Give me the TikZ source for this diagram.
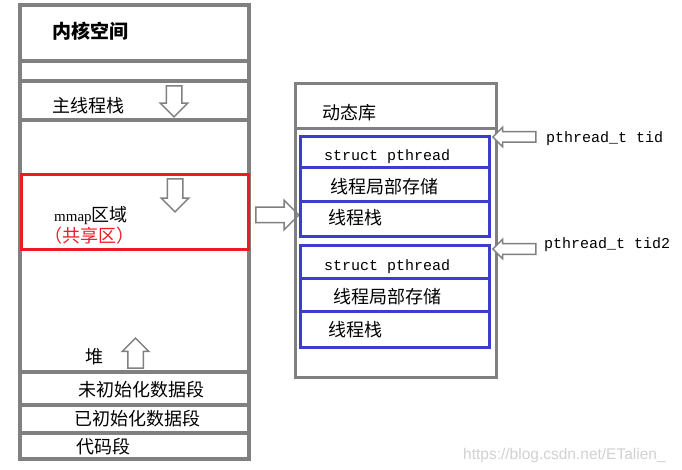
\documentclass[tikz,border=0pt]{standalone}
\usepackage{fontspec}
\setmainfont{Liberation Serif}
\setmonofont{Liberation Mono}
\setsansfont{Liberation Sans}
\newfontfamily\cjk{Noto Sans CJK SC}
\usetikzlibrary{shapes.arrows}
\definecolor{boxgray}{RGB}{128,128,128}
\definecolor{tlsblue}{RGB}{60,60,205}
\definecolor{sharered}{RGB}{237,28,36}
\newcommand\zh[1]{{\cjk\fontsize{18}{20}\selectfont #1}}
\newcommand\code[1]{{\ttfamily\fontsize{15}{17}\selectfont #1}}
\tikzset{
  txt/.style={anchor=west, inner sep=0pt},
  hollow/.style={single arrow, draw=boxgray, line width=1.5pt, fill=white,
    inner sep=7pt, single arrow head extend=6pt},
}

\begin{document}
\begin{tikzpicture}[x=1pt, y=-1pt]
        \useasboundingbox (0, 0) rectangle (682, 470);

        % process address space
        \draw [boxgray, line width=4pt] (20, 5) rectangle (249, 459);
        \foreach \y in {61, 81, 120, 372, 405, 433}
          \draw [boxgray, line width=3.5pt] (20, \y) -- (249, \y);
        \draw [sharered, line width=3pt] (21, 175) rectangle (248, 250);

        \node [txt] (kernel) at (52, 31) {{\cjk\fontsize{19}{20}\selectfont\bfseries 内核空间}};
        \node [txt] (mainstack) at (52, 106) {\zh{主线程栈}};
        \node [txt] (mmap) at (54, 216) {\fontsize{15}{17}\selectfont mmap\zh{区域}};
        \node [txt] (shared) at (44, 236) {\color{sharered}\zh{（共享区）}};
        \node [txt] (heap) at (85, 357) {\zh{堆}};
        \node [txt] (bss) at (78, 390) {\zh{未初始化数据段}};
        \node [txt] (data) at (74, 419) {\zh{已初始化数据段}};
        \node [txt] (textseg) at (76, 447) {\zh{代码段}};

        \node [hollow, minimum height=31pt, shape border rotate=270] (growstack) at (174, 97.5) {};
        \node [hollow, minimum height=33pt, shape border rotate=270] (growmmap) at (175, 191.5) {};
        \node [hollow, minimum height=30pt, single arrow head extend=5.5pt, shape border rotate=90] (growheap) at (135.5, 357) {};
        \node [hollow, minimum height=43pt, single arrow head extend=7pt] (tolib) at (273.5, 215) {};

        % shared library with thread blocks
        \draw [boxgray, line width=3pt] (295, 84) rectangle (496, 377);
        \draw [boxgray, line width=3pt] (295, 129) -- (496, 129);
        \node [txt] (dynlib) at (322, 113) {\zh{动态库}};

        \draw [tlsblue, line width=3pt] (300, 137) rectangle (489, 237);
        \draw [tlsblue, line width=3pt] (300, 168) -- (489, 168);
        \draw [tlsblue, line width=3pt] (300, 202) -- (489, 202);
        \node [txt] (pthreadA) at (324, 157) {\code{struct pthread}};
        \node [txt] (tlsA) at (330, 187) {\zh{线程局部存储}};
        \node [txt] (stackA) at (328, 218) {\zh{线程栈}};

        \draw [tlsblue, line width=3pt] (300, 246) rectangle (489, 347);
        \draw [tlsblue, line width=3pt] (300, 278) -- (489, 278);
        \draw [tlsblue, line width=3pt] (300, 311) -- (489, 311);
        \node [txt] (pthreadB) at (324, 267) {\code{struct pthread}};
        \node [txt] (tlsB) at (333, 297) {\zh{线程局部存储}};
        \node [txt] (stackB) at (328, 330) {\zh{线程栈}};

        % thread ids
        \node [hollow, minimum height=43pt, inner sep=4.5pt, single arrow head extend=4.5pt, shape border rotate=180] (ptrA) at (517, 137) {};
        \node [hollow, minimum height=43pt, inner sep=4.5pt, single arrow head extend=4.5pt, shape border rotate=180] (ptrB) at (517, 249) {};
        \node [txt] (tidA) at (546, 139) {\code{pthread\_t tid}};
        \node [txt] (tidB) at (544, 245) {\code{pthread\_t tid2}};

        \node [txt] (mark) at (463, 455) {\sffamily\fontsize{15.5}{17}\selectfont\color{black!18}https://blog.csdn.net/ETalien\_};
      \end{tikzpicture}
\end{document}
